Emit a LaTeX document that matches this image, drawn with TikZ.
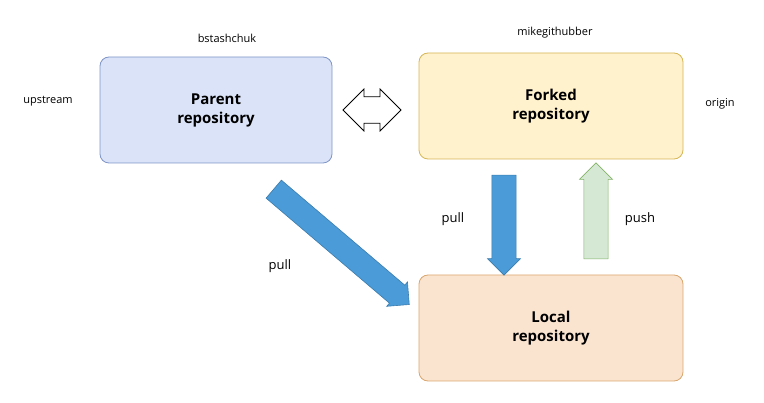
\documentclass[tikz,border=0pt]{standalone}
\usepackage{fontspec}
\setmainfont{Open Sans}
\usetikzlibrary{shapes.arrows}
\definecolor{parentfill}{HTML}{DAE3F7}
\definecolor{parentline}{HTML}{7F95C8}
\definecolor{forkfill}{HTML}{FFF2CC}
\definecolor{forkline}{HTML}{D6B656}
\definecolor{localfill}{HTML}{FAE4D0}
\definecolor{localline}{HTML}{D9A66E}
\definecolor{pullblue}{HTML}{4A9BD8}
\definecolor{pushgreen}{HTML}{D5E8D4}
\definecolor{pushline}{HTML}{82B366}
\tikzset{
  repo/.style={draw,rounded corners=9pt,line width=0.8pt,font=\bfseries\fontsize{15}{19}\selectfont,align=center,minimum height=106pt,inner sep=0pt},
  tag/.style={font=\fontsize{11}{13}\selectfont},
  fat/.style={single arrow,inner sep=11pt,single arrow head extend=4pt,single arrow tip angle=90,line width=0.6pt}
}
\begin{document}
\begin{tikzpicture}[x=1pt,y=-1pt]
  \useasboundingbox (0,0) rectangle (764,403);
  \node[repo,fill=parentfill,draw=parentline,minimum width=232pt] (parent) at (216,110) {Parent\\repository};
  \node[repo,fill=forkfill,draw=forkline,minimum width=264pt] (fork) at (551,106) {Forked\\repository};
  \node[repo,fill=localfill,draw=localline,minimum width=264pt] (local) at (551,328) {Local\\repository};
  \node[tag] (owner) at (227,38) {bstashchuk};
  \node[tag] (forker) at (555,33) {mikegithubber};
  \node[tag] (up) at (48,101) {upstream};
  \node[tag] (orig) at (720,104) {origin};
  % arrows
  \node[double arrow,draw=black,fill=white,line width=0.8pt,minimum height=58pt,minimum width=42pt,inner sep=10pt,double arrow head extend=6pt] (sync) at (372,110) {};
  \node[fat,fill=pullblue,draw=pullblue!80!black,minimum height=178pt,minimum width=32pt,rotate=-40.4] (diag) at (337,243) {};
  \node[fat,fill=pullblue,draw=pullblue!80!black,minimum height=100pt,minimum width=33pt,rotate=-90] (down) at (504,219) {};
  \node[fat,fill=pushgreen,draw=pushline,minimum height=96pt,minimum width=33pt,rotate=90] (upa) at (596,217) {};
  \node[tag,font=\fontsize{13}{15}\selectfont] (pull1) at (280,266) {pull};
  \node[tag,font=\fontsize{13}{15}\selectfont] (pull2) at (453,219) {pull};
  \node[tag,font=\fontsize{13}{15}\selectfont] (push) at (640,219) {push};
\end{tikzpicture}
\end{document}
